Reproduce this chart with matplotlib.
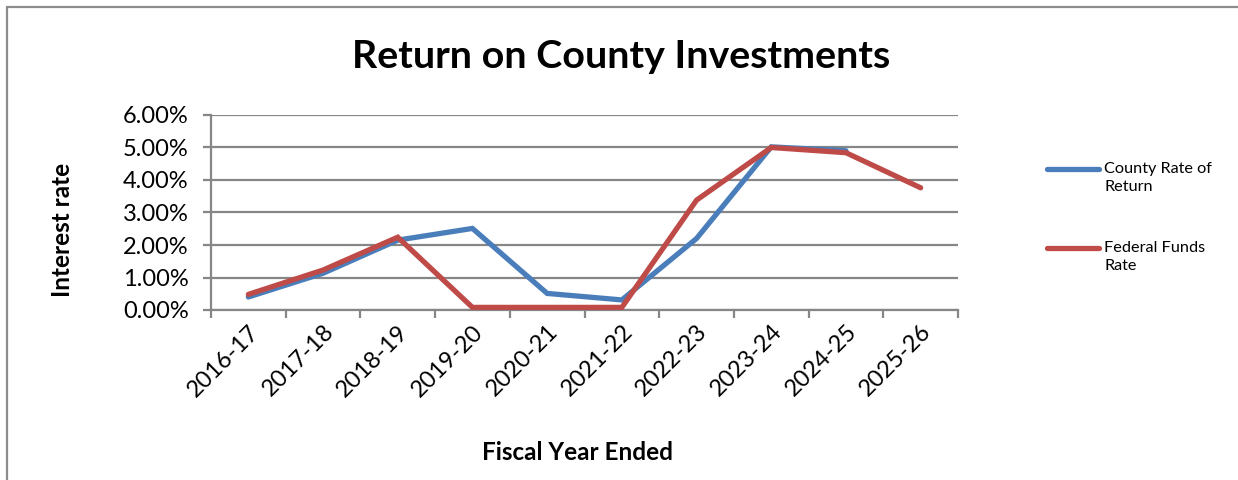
import numpy as np
import matplotlib.pyplot as plt
from matplotlib.lines import Line2D
from matplotlib.patches import Rectangle
from matplotlib.ticker import FixedLocator, PercentFormatter

plt.rcParams['font.family'] = ['Lato', 'DejaVu Sans']

years = ['2016-17', '2017-18', '2018-19', '2019-20', '2020-21',
         '2021-22', '2022-23', '2023-24', '2024-25', '2025-26']
# rates in percent; county figure for 2025-26 not yet available
county_rate = [0.40, 1.13, 2.15, 2.51, 0.51, 0.31, 2.20, 5.02, 4.90, np.nan]
fed_funds = [0.48, 1.23, 2.24, 0.08, 0.08, 0.08, 3.38, 5.00, 4.84, 3.76]

blue = '#4A7EBB'
red = '#BE4B48'
grey = '#868686'

W, H = 1238, 480
fig = plt.figure(figsize=(W / 100, H / 100), dpi=100)
fig.patch.set_facecolor('white')

# chart frame (only top/left edges fall inside the image)
fig.add_artist(Rectangle((6.5 / W, -0.1), 1.2, 1.1 - 7 / H, transform=fig.transFigure,
                         fill=False, edgecolor='#8c8c8c', linewidth=1.6))

ax = fig.add_axes([211 / W, (H - 310) / H, (958 - 211) / W, (310 - 115) / H])
x = np.arange(len(years))
ax.plot(x, county_rate, color=blue, linewidth=3.8, solid_capstyle='round',
        solid_joinstyle='miter', zorder=3)
ax.plot(x, fed_funds, color=red, linewidth=3.8, solid_capstyle='round',
        solid_joinstyle='miter', zorder=4)

ax.set_xlim(-0.5, len(years) - 0.5)
ax.set_ylim(0, 6)
ax.set_yticks(np.arange(0, 7, 1))
ax.yaxis.set_major_formatter(PercentFormatter(decimals=2))
ax.grid(axis='y', color=grey, linewidth=1.6)
ax.set_axisbelow(True)

# category labels sit between the tick marks
ax.set_xticks(x)
ax.set_xticklabels(years, rotation=45, ha='right', rotation_mode='anchor', fontsize=17)
ax.xaxis.set_minor_locator(FixedLocator(np.arange(-0.5, len(years), 1)))
ax.tick_params(axis='x', which='major', length=0, pad=8)
ax.tick_params(axis='x', which='minor', length=6, width=1.6, color=grey, direction='out')
ax.tick_params(axis='y', length=6, width=1.6, color=grey, labelsize=17, pad=10)

for s in ['top', 'right']:
    ax.spines[s].set_visible(False)
for s in ['left', 'bottom']:
    ax.spines[s].set_color(grey)
    ax.spines[s].set_linewidth(1.6)

fig.text(621 / W, 1 - 57 / H, 'Return on County Investments', ha='center', va='center',
         fontsize=28.4, fontweight='bold')
fig.text(63 / W, 1 - 230 / H, 'Interest rate', ha='center', va='center', rotation=90,
         fontsize=17.5, fontweight='bold')
fig.text(577 / W, 1 - 452 / H, 'Fiscal Year Ended', ha='center', va='center',
         fontsize=17.5, fontweight='bold')

# legend
legend_items = [('County Rate of\nReturn', blue, 169), ('Federal Funds\nRate', red, 248)]
for label, color, ypix in legend_items:
    fig.add_artist(Line2D([1047 / W, 1099 / W], [1 - ypix / H, 1 - ypix / H],
                          transform=fig.transFigure, color=color, linewidth=3.8,
                          solid_capstyle='round'))
    fig.text(1104 / W, 1 - (ypix - 7) / H, label, ha='left', va='top', fontsize=11.7,
             linespacing=1.4)

fig.savefig('out.png', dpi=100)
